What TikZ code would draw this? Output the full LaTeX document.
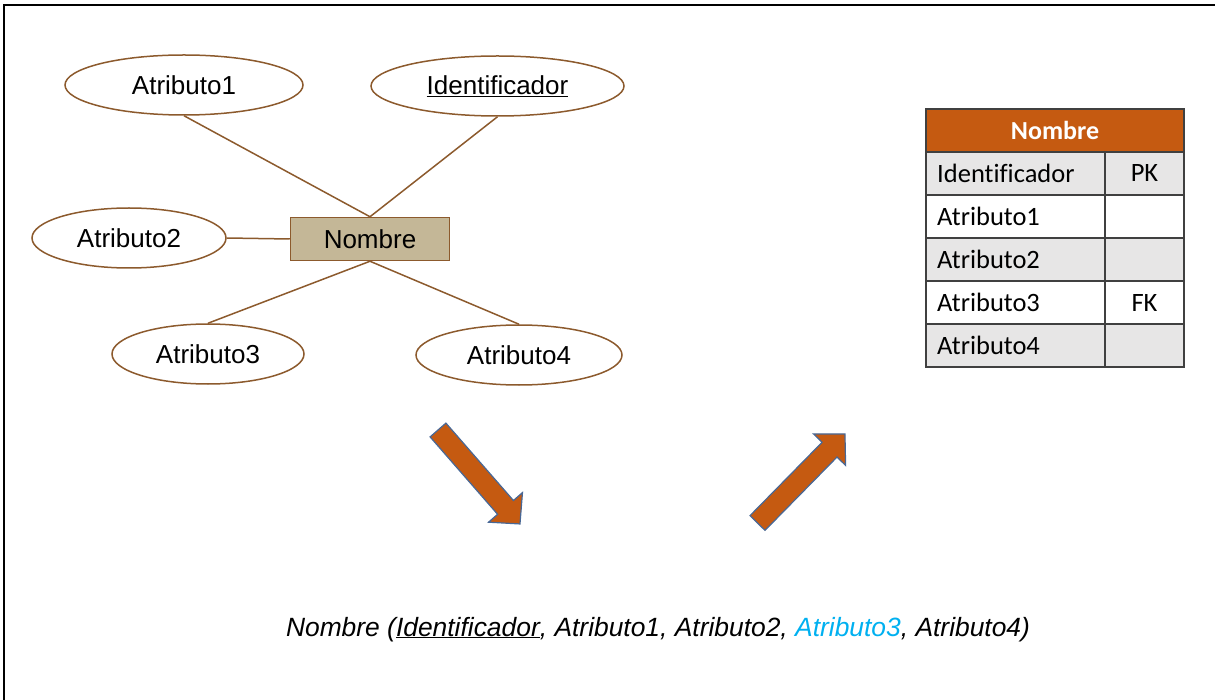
\documentclass[tikz,border=0pt]{standalone}
\usepackage{fontspec}
\setmainfont{Liberation Sans}
\newfontfamily\calfont[Ligatures=NoCommon]{Carlito}
\usetikzlibrary{shapes.geometric}
\definecolor{erbrown}{RGB}{140,90,45}
\definecolor{ertan}{RGB}{196,183,151}
\definecolor{arrorange}{RGB}{197,90,17}
\definecolor{arrblue}{RGB}{72,104,150}
\definecolor{rowgray}{RGB}{231,230,230}
\definecolor{tblline}{RGB}{64,64,64}
\definecolor{skyblue}{RGB}{0,176,240}
\tikzset{
  attr/.style={ellipse, draw=erbrown, line width=1.5pt, fill=white, inner sep=0pt,
    minimum height=60pt, font=\fontsize{26}{30}\selectfont},
  entity/.style={rectangle, draw=erbrown, line width=1.5pt, fill=ertan, inner sep=0pt,
    minimum width=159pt, minimum height=43pt, font=\fontsize{26}{30}\selectfont},
  link/.style={draw=erbrown, line width=1.5pt},
  bigarrow/.style={fill=arrorange, draw=arrblue, line width=1.2pt, line join=miter},
  cell/.style={anchor=west, inner sep=0pt, font=\calfont\fontsize{26.5}{30}\selectfont},
  keycell/.style={anchor=center, inner sep=0pt, font=\calfont\fontsize{26.5}{30}\selectfont},
  tblborder/.style={draw=tblline, line width=1.2pt},
}
\begin{document}
\begin{tikzpicture}[x=1pt,y=-1pt]
\useasboundingbox (0,0) rectangle (1215,700);
% frame
\draw[line width=2pt] (4,700) -- (4,5) -- (1215,5);
% ER diagram
\node[attr, minimum width=238pt] (a1) at (184,85) {Atributo1};
\node[attr, minimum width=253pt] (id) at (497.5,86) {\underline{Identificador}};
\node[attr, minimum width=194pt] (a2) at (129,238) {Atributo2};
\node[attr, minimum width=192pt] (a3) at (208,354) {Atributo3};
\node[attr, minimum width=206pt] (a4) at (519,355) {Atributo4};
\node[entity] (ent) at (370,239) {Nombre};
\draw[link] (ent.north) -- (a1.south);
\draw[link] (ent.north) -- (id.south);
\draw[link] (a2.east) -- (ent.west);
\draw[link] (ent.south) -- (a3.north);
\draw[link] (ent.south) -- (a4.north);
% arrows
\begin{scope}[shift={(438,430)}, rotate=-48.9]
\draw[bigarrow] (0,-10.5) -- (102.7,-10.5) -- (102.7,-22.5) -- (124.7,0) -- (102.7,22.5) -- (102.7,10.5) -- (0,10.5) -- cycle;
\end{scope}
\begin{scope}[shift={(757.5,523)}, rotate=45.5]
\draw[bigarrow] (0,-10.5) -- (102.8,-10.5) -- (102.8,-22.5) -- (124.8,0) -- (102.8,22.5) -- (102.8,10.5) -- (0,10.5) -- cycle;
\end{scope}
% table
\fill[arrorange] (926,109) rectangle (1184,152);
\fill[rowgray] (926,152) rectangle (1184,195);
\fill[white] (926,195) rectangle (1184,238);
\fill[rowgray] (926,238) rectangle (1184,281);
\fill[white] (926,281) rectangle (1184,324);
\fill[rowgray] (926,324) rectangle (1184,367);
\draw[tblborder] (926,109) rectangle (1184,367);
\foreach \yy in {152,195,238,281,324} \draw[tblborder] (926,\yy) -- (1184,\yy);
\draw[tblborder] (1105,152) -- (1105,367);
\node[keycell, text=white, font=\calfont\bfseries\fontsize{26}{30}\selectfont] (th) at (1055,130.5) {Nombre};
\node[cell] (r1) at (937,173.5) {Identificador};
\node[keycell] (k1) at (1144.5,173.5) {PK};
\node[cell] (r2) at (937,216.5) {Atributo1};
\node[cell] (r3) at (937,259.5) {Atributo2};
\node[cell] (r4) at (937,302.5) {Atributo3};
\node[keycell] (k4) at (1144.5,302.5) {FK};
\node[cell] (r5) at (937,345.5) {Atributo4};
% relational schema
\node[anchor=base, inner sep=0pt, font=\itshape\fontsize{26.4}{30}\selectfont] (schema) at (658,636)
  {Nombre (\underline{Identificador}, Atributo1, Atributo2, \textcolor{skyblue}{Atributo3}, Atributo4)};
\end{tikzpicture}
\end{document}
